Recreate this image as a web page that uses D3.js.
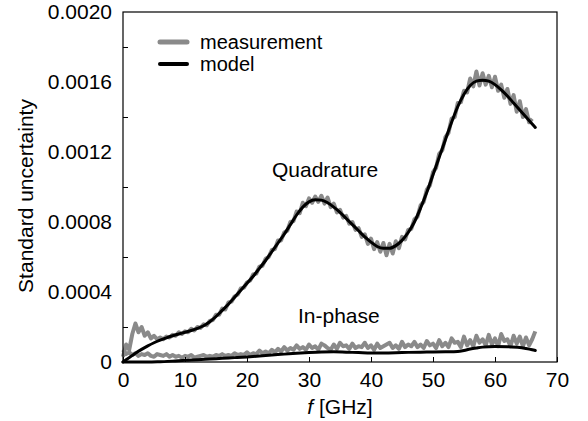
<!DOCTYPE html>
<html>
<head>
<meta charset="utf-8">
<script src="https://cdn.jsdelivr.net/npm/d3@7"></script>
<style>
    body { margin: 0; background: #fff; }
    text { font-family: "Liberation Sans", Arial, sans-serif; }
</style>
</head>
<body>
<div class="chart"></div>
<script>
// values in units of 1e-4 (standard uncertainty)
var measStep = 0.5; // GHz between measured samples
var quadMeas = [
    0.3, 1.0, 0.7, 1.6, 2.2, 1.7, 2.0, 1.5, 1.7, 1.35, 1.5, 1.3, 1.4, 1.3, 1.45, 1.4, 1.55, 1.5, 1.7, 1.6,
    1.75, 1.7, 1.9, 1.8, 2.0, 1.95, 2.15, 2.1, 2.35, 2.4, 2.7, 2.7, 3.05, 3.0, 3.4, 3.45, 3.75, 3.85, 4.2, 4.25,
    4.55, 4.65, 5.0, 5.05, 5.45, 5.5, 5.9, 6.0, 6.4, 6.45, 6.95, 6.95, 7.4, 7.5, 8.0, 8.05, 8.6, 8.5, 9.1, 8.9,
    9.35, 9.1, 9.45, 9.15, 9.5, 9.05, 9.4, 8.85, 9.05, 8.55, 8.7, 8.25, 8.35, 7.9, 8.0, 7.55, 7.65, 7.15, 7.3, 6.75,
    7.05, 6.45, 6.85, 6.3, 6.8, 6.1, 6.75, 6.2, 6.9, 6.5, 7.15, 7.0, 7.55, 7.6, 8.15, 8.3, 8.95, 9.15, 9.85, 10.1,
    10.85, 11.1, 11.9, 12.1, 12.85, 13.1, 13.9, 14.0, 14.8, 14.85, 15.5, 15.4, 16.2, 15.75, 16.6, 15.8, 16.5, 15.85, 16.35, 15.7,
    16.3, 15.5, 15.85, 15.1, 15.6, 14.75, 15.25, 14.3, 14.9, 14.0, 14.45, 13.7, 13.9
];
var inphaseMeas = [
    0.7, 0.45, 0.55, 0.4, 0.5, 0.35, 0.45, 0.4, 0.5, 0.35, 0.3, 0.45, 0.4, 0.35, 0.45, 0.3, 0.4, 0.3, 0.35, 0.25,
    0.35, 0.3, 0.4, 0.25, 0.3, 0.35, 0.4, 0.3, 0.35, 0.3, 0.4, 0.35, 0.45, 0.35, 0.4, 0.35, 0.5, 0.4, 0.45, 0.4,
    0.55, 0.4, 0.5, 0.45, 0.65, 0.5, 0.6, 0.5, 0.7, 0.55, 0.75, 0.6, 0.85, 0.65, 0.8, 0.7, 0.95, 0.75, 0.85, 0.7,
    1.0, 0.8, 0.9, 0.7, 1.05, 0.95, 0.8, 0.7, 1.0, 0.75, 1.1, 0.9, 0.95, 0.75, 1.05, 0.8, 0.9, 0.85, 1.1, 0.8,
    0.95, 0.7, 1.05, 0.8, 0.9, 1.0, 1.1, 0.8, 0.95, 0.75, 1.15, 0.85, 1.0, 0.9, 1.15, 0.85, 1.0, 0.8, 1.2, 0.95,
    1.05, 0.8, 1.25, 0.9, 1.1, 0.85, 1.35, 1.1, 1.15, 0.85, 1.45, 0.95, 1.25, 0.9, 1.5, 1.1, 1.3, 0.95, 1.55, 1.0,
    1.35, 0.9, 1.6, 1.2, 1.3, 0.9, 1.5, 1.05, 1.45, 0.9, 1.4, 0.95, 1.3, 1.75
];

// model curves: [f (GHz), value (1e-4)]
var quadModel = [
    [0, 0], [1, 0.25], [2, 0.5], [3, 0.72], [4, 0.92], [5, 1.1], [6, 1.25], [7, 1.38], [8, 1.5], [9, 1.6],
    [10, 1.7], [11, 1.8], [12, 1.92], [13, 2.07], [14, 2.3], [15, 2.6], [16, 2.95], [17, 3.3], [18, 3.7], [19, 4.1],
    [20, 4.5], [21, 4.9], [22, 5.35], [23, 5.8], [24, 6.3], [25, 6.8], [26, 7.3], [27, 7.85], [28, 8.4], [29, 8.85],
    [30, 9.15], [31, 9.27], [32, 9.25], [33, 9.1], [34, 8.85], [35, 8.55], [36, 8.2], [37, 7.85], [38, 7.5], [39, 7.15],
    [40, 6.85], [41, 6.6], [42, 6.5], [43, 6.5], [44, 6.65], [45, 6.95], [46, 7.4], [47, 8.0], [48, 8.8], [49, 9.7],
    [50, 10.7], [51, 11.7], [52, 12.7], [53, 13.7], [54, 14.6], [55, 15.3], [56, 15.8], [57, 16.05], [58, 16.1], [59, 16.05],
    [60, 15.85], [61, 15.55], [62, 15.2], [63, 14.8], [64, 14.4], [65, 14.0], [66, 13.6], [66.5, 13.4]
];
var inphaseModel = [
    [0, 0], [2, 0], [4, 0], [6, 0.02], [8, 0.05], [10, 0.1], [12, 0.13], [14, 0.17], [16, 0.21], [18, 0.25],
    [20, 0.29], [22, 0.34], [24, 0.4], [26, 0.45], [28, 0.5], [30, 0.54], [32, 0.57], [34, 0.58], [36, 0.56], [38, 0.54],
    [40, 0.52], [42, 0.52], [44, 0.53], [46, 0.55], [48, 0.56], [50, 0.57], [52, 0.58], [54, 0.6], [55, 0.66], [56, 0.74],
    [57, 0.8], [58, 0.85], [60, 0.88], [62, 0.87], [64, 0.83], [65, 0.77], [66, 0.7], [66.5, 0.66]
];

var xTicks = [0, 10, 20, 30, 40, 50, 60, 70];
var yTicks = [0, 4, 8, 12, 16, 20];
var yTickLabels = ["0", "0.0004", "0.0008", "0.0012", "0.0016", "0.0020"];
var yMinorTicks = [2, 6, 10, 14, 18];

function init() {
    var w = 588;
    var h = 421;
    var left = 123, right = 557, top = 12, bottom = 362;
    var gray = "#8a8a8a";

    var svg = d3.select(".chart")
        .append("svg")
        .attr("width", w)
        .attr("height", h);

    var xScale = d3.scaleLinear().domain([0, 70]).range([left, right]);
    var yScale = d3.scaleLinear().domain([0, 20]).range([bottom, top]);

    // measured curves (gray)
    var measLine = d3.line()
        .x(function(d, i) { return xScale(i * measStep); })
        .y(function(d) { return yScale(d); });

    [quadMeas, inphaseMeas].forEach(function(series) {
        svg.append("path")
            .datum(series)
            .attr("d", measLine)
            .attr("fill", "none")
            .attr("stroke", gray)
            .attr("stroke-width", 4)
            .attr("stroke-linejoin", "round");
    });

    // model curves (black)
    var modelLine = d3.line()
        .x(function(d) { return xScale(d[0]); })
        .y(function(d) { return yScale(d[1]); })
        .curve(d3.curveMonotoneX);

    [quadModel, inphaseModel].forEach(function(series) {
        svg.append("path")
            .datum(series)
            .attr("d", modelLine)
            .attr("fill", "none")
            .attr("stroke", "#000")
            .attr("stroke-width", 3)
            .attr("stroke-linecap", "round");
    });

    // frame
    svg.append("rect")
        .attr("x", left)
        .attr("y", top)
        .attr("width", right - left)
        .attr("height", bottom - top)
        .attr("fill", "none")
        .attr("stroke", "#000")
        .attr("stroke-width", 1.2);

    // axes
    var xAxis = d3.axisBottom(xScale)
        .tickValues(xTicks)
        .tickSize(-5)
        .tickPadding(10)
        .tickFormat(d3.format("d"));

    svg.append("g")
        .attr("transform", "translate(0," + bottom + ")")
        .call(xAxis)
        .call(function(g) { g.select(".domain").remove(); })
        .selectAll("text")
        .style("font-size", "21px")
        .attr("fill", "#000");

    var yAxis = d3.axisLeft(yScale)
        .tickValues(yTicks)
        .tickSize(0)
        .tickPadding(11)
        .tickFormat(function(d, i) { return yTickLabels[i]; });

    svg.append("g")
        .attr("transform", "translate(" + left + ",0)")
        .call(yAxis)
        .call(function(g) { g.select(".domain").remove(); })
        .selectAll("text")
        .style("font-size", "21px")
        .attr("fill", "#000");

    var yMinor = d3.axisLeft(yScale)
        .tickValues(yMinorTicks)
        .tickSize(-5)
        .tickFormat("");

    svg.append("g")
        .attr("transform", "translate(" + left + ",0)")
        .call(yMinor)
        .call(function(g) { g.select(".domain").remove(); });

    // axis titles
    svg.append("text")
        .attr("transform", "translate(33,196) rotate(-90)")
        .attr("text-anchor", "middle")
        .style("font-size", "21px")
        .text("Standard uncertainty");

    var xTitle = svg.append("text")
        .attr("x", (left + right) / 2)
        .attr("y", 414)
        .attr("text-anchor", "middle")
        .style("font-size", "21px");
    xTitle.append("tspan").style("font-style", "italic").text("f");
    xTitle.append("tspan").text(" [GHz]");

    // curve labels
    svg.append("text")
        .attr("x", 272)
        .attr("y", 177)
        .style("font-size", "21px")
        .text("Quadrature");

    svg.append("text")
        .attr("x", 298)
        .attr("y", 323)
        .style("font-size", "21px")
        .text("In-phase");

    // legend
    var legend = [
        { label: "measurement", color: gray, width: 5, y: 42 },
        { label: "model", color: "#000", width: 4, y: 64 }
    ];
    legend.forEach(function(d) {
        svg.append("line")
            .attr("x1", 160).attr("x2", 187)
            .attr("y1", d.y).attr("y2", d.y)
            .attr("stroke", d.color)
            .attr("stroke-width", d.width)
            .attr("stroke-linecap", "round");
        svg.append("text")
            .attr("x", 200)
            .attr("y", d.y + 7)
            .style("font-size", "20px")
            .text(d.label);
    });
}

window.onload = init;
</script>
</body>
</html>
